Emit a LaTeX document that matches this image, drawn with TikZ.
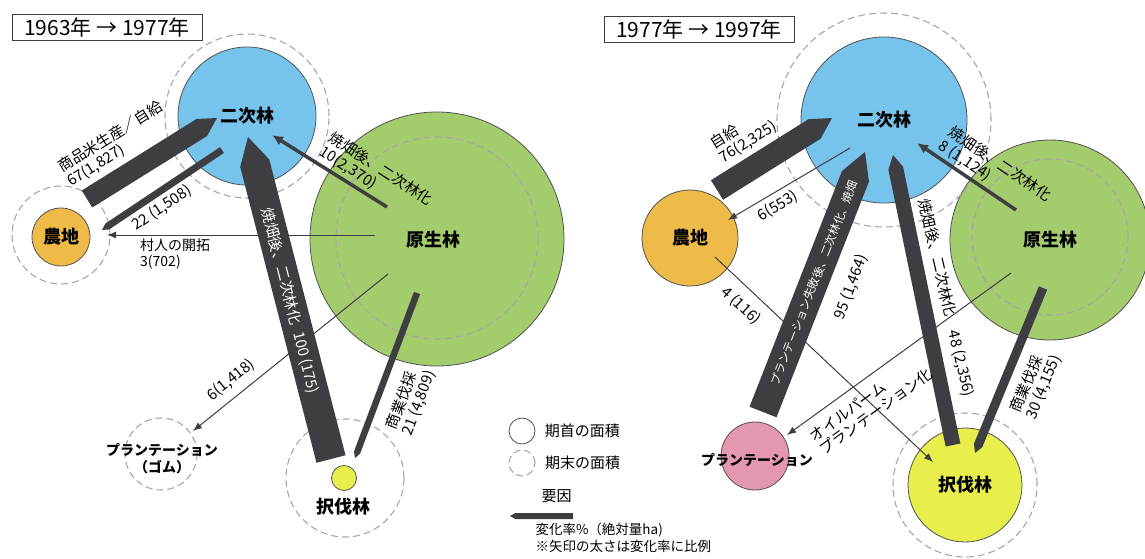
\documentclass[tikz,border=0pt]{standalone}
\usepackage{fontspec}
\setmainfont{Noto Sans CJK JP}
\usetikzlibrary{calc,arrows.meta,positioning}
\definecolor{skyb}{RGB}{118,196,236}
\definecolor{leaf}{RGB}{163,204,108}
\definecolor{soil}{RGB}{238,186,72}
\definecolor{lemon}{RGB}{232,238,76}
\definecolor{rose}{RGB}{228,152,174}
\definecolor{ink}{RGB}{62,62,66}
\newcommand\cirfont{\fontsize{18}{20}\selectfont\bfseries}
\newcommand\fatarr[3]{\fill[ink] ($(#1)!0.5*#3pt!90:(#2)$) -- ($(#2)!0.9*#3pt!(#1)!0.5*#3pt!-90:(#1)$) -- (#2) -- ($(#2)!0.9*#3pt!(#1)!0.5*#3pt!90:(#1)$) -- ($(#1)!0.5*#3pt!-90:(#2)$) -- cycle;}
\begin{document}
\begin{tikzpicture}[x=1pt,y=-1pt,
  area/.style={circle,inner sep=0pt,draw=ink!90,line width=0.8pt,minimum size=#1},
  later/.style={circle,inner sep=0pt,draw=gray!70,dash pattern=on 7pt off 4pt,line width=1.1pt,minimum size=#1},
  lab/.style={font=\fontsize{15}{16.5}\selectfont,align=left,inner sep=0pt},
  inlab/.style={font=\fontsize{15}{17}\selectfont,text=white,inner sep=0pt},
  yearbox/.style={draw=ink,line width=0.8pt,minimum height=26pt,font=\fontsize{21}{23}\selectfont},
  thinarr/.style={draw=ink,line width=1pt,-{Latex[length=9pt,width=7pt]}},
  midarr/.style={draw=ink,line width=3.5pt,-{Latex[length=11pt,width=10pt]}}]
\useasboundingbox (0,0) rectangle (1145,558);
\node[yearbox,minimum width=190pt] (titleL) at (107,27) {1963年 → 1977年};
\node[yearbox,minimum width=190pt] (titleR) at (699,29) {1977年 → 1997年};

\node[area=254pt,fill=leaf] (genL) at (437,239) {}; \node[later=202pt] (genLd) at (437,238) {};
\node[font=\cirfont] at (433,240) {原生林};
\node[area=138pt,fill=skyb,font=\cirfont] (nijiL) at (247,116) {二次林}; \node[later=164pt] (nijiLd) at (247,116) {};
\node[area=58pt,fill=soil,font=\cirfont] (nochiL) at (61,237) {農地}; \node[later=98pt] (nochiLd) at (61,235) {};
\node[later=72pt] (plantL) at (161,454) {};
\node[font=\fontsize{14}{17}\selectfont\bfseries,align=center] at (162,459) {プランテーション\\（ゴム）};
\node[area=25pt,fill=lemon] (takuL) at (344,478) {}; \node[later=118pt] (takuLd) at (345,478) {};
\node[font=\cirfont] at (343,507) {択伐林};

\coordinate (a1s) at (87,199); \coordinate (a1e) at (217,118);
\coordinate (a2s) at (222,150); \coordinate (a2e) at (102,230);
\coordinate (a3s) at (375,235); \coordinate (a3e) at (107,235);
\coordinate (a4s) at (387,207); \coordinate (a4e) at (272,135);
\coordinate (a5s) at (331,459); \coordinate (a5e) at (248,137);
\coordinate (a6s) at (388,274); \coordinate (a6e) at (193,431);
\coordinate (a7s) at (417,293); \coordinate (a7e) at (355,458);
\fatarr{a1s}{a1e}{20} \fatarr{a2s}{a2e}{7} \fatarr{a5s}{a5e}{30} \fatarr{a7s}{a7e}{6.5}
\draw[thinarr] (a3s) -- (a3e); \draw[thinarr] (a6s) -- (a6e); \draw[midarr] (a4s) -- (a4e);
\node[lab,rotate=32] at (115,144) {商品米生産／自給\\67(1,827)};
\node[lab,rotate=34] at (162,208) {22 (1,508)};
\node[lab,font=\fontsize{14}{16}\selectfont,anchor=north west] at (140,239) {村人の開拓\\3(702)};
\node[lab,rotate=-33] at (376,176) {焼畑後、二次林化\\10(2,370)};
\node[inlab,rotate=-75.5] at (290,301) {焼畑後、二次林化\enspace 100 (175)};
\node[lab,rotate=39] at (231,380) {6(1,418)};
\node[lab,rotate=69] at (411,400) {商業伐採\\21 (4,809)};

\node[area=26pt] (lgA) at (522,431) {}; \node[later=26pt] (lgB) at (522,463) {};
\node[font=\fontsize{15}{17}\selectfont,right=6pt of lgA] {期首の面積};
\node[font=\fontsize{15}{17}\selectfont,right=6pt of lgB] {期末の面積};
\node[font=\fontsize{15}{17}\selectfont,anchor=west] (lgC) at (538,496) {要因};
\coordinate (lgs) at (573,516); \coordinate (lge) at (510,516); \fatarr{lgs}{lge}{6}
\node[font=\fontsize{13.5}{15}\selectfont,anchor=west] at (532,530) {変化率\%（絶対量ha)};
\node[font=\fontsize{13.5}{15}\selectfont,anchor=west] at (532,546) {※矢印の太さは変化率に比例};

\node[area=200pt,fill=leaf,font=\cirfont] (genR) at (1050,240) {原生林}; \node[later=156pt] (genRd) at (1050,237) {};
\node[area=166pt,fill=skyb,font=\cirfont] (nijiR) at (884,120) {二次林}; \node[later=214pt] (nijiRd) at (884,120) {};
\node[area=96pt,fill=soil,font=\cirfont] (nochiR) at (690,238) {農地};
\node[area=68pt,fill=rose] (plantR) at (755,456) {};
\node[font=\fontsize{14}{16}\selectfont\bfseries] at (757,460) {プランテーション};
\node[area=114pt,fill=lemon,font=\cirfont] (takuR) at (965,485) {択伐林}; \node[later=144pt] (takuRd) at (965,485) {};

\coordinate (b1s) at (717,190); \coordinate (b1e) at (832,118);
\coordinate (b2s) at (850,148); \coordinate (b2e) at (728,220);
\coordinate (b3s) at (763,412); \coordinate (b3e) at (865,152);
\coordinate (b4s) at (953,445); \coordinate (b4e) at (893,155);
\coordinate (b5s) at (1016,210); \coordinate (b5e) at (917,143);
\coordinate (b6s) at (1043,288); \coordinate (b6e) at (975,453);
\coordinate (b7s) at (715,257); \coordinate (b7e) at (933,462);
\coordinate (b8s) at (1011,273); \coordinate (b8e) at (787,435);
\fatarr{b1s}{b1e}{23} \fatarr{b3s}{b3e}{29} \fatarr{b4s}{b4e}{15} \fatarr{b6s}{b6e}{9}
\draw[thinarr] (b2s) -- (b2e); \draw[thinarr] (b7s) -- (b7e); \draw[thinarr] (b8s) -- (b8e); \draw[midarr] (b5s) -- (b5e);
\node[lab,rotate=32] at (744,135) {自給\\76(2,325)};
\node[lab,rotate=31] at (778,206) {6(553)};
\node[inlab,font=\fontsize{11.5}{13}\selectfont,rotate=68.6] at (814,283) {プランテーション失敗後、二次林化、焼畑};
\node[lab,rotate=68.6] at (851,287) {95 (1,464)};
\node[lab,rotate=-77] at (946,298) {焼畑後、二次林化\quad 48 (2,356)};
\node[lab,rotate=-34] at (995,171) {焼畑後、二次林化\\8 (1,124)};
\node[lab,rotate=67.6] at (1036,384) {商業伐採\\30 (4,155)};
\node[lab,rotate=-43] at (741,306) {4 (116)};
\node[lab,rotate=36] at (871,405) {オイルパーム\\プランテーション化};
\end{tikzpicture}
\end{document}
